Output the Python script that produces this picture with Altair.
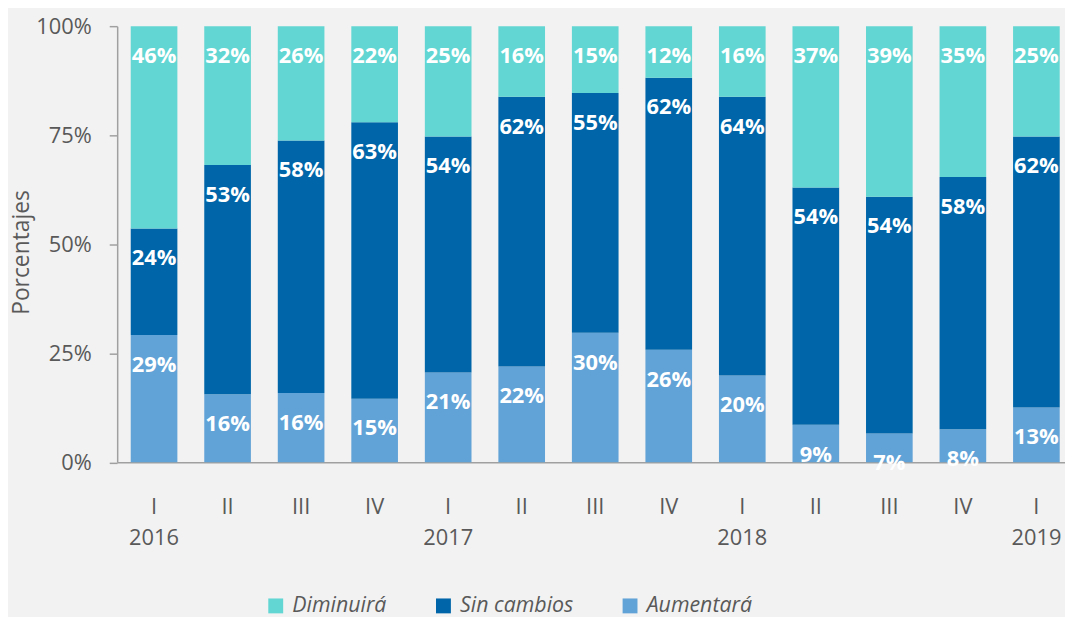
import altair as alt
import pandas as pd

periods = ["2016-I", "2016-II", "2016-III", "2016-IV",
           "2017-I", "2017-II", "2017-III", "2017-IV",
           "2018-I", "2018-II", "2018-III", "2018-IV",
           "2019-I"]
diminuira = [46.4, 31.8, 26.2, 22.0, 25.3, 16.2, 15.3, 11.8, 16.2, 37.0, 39.1, 34.6, 25.3]
sin_cambios = [24.4, 52.6, 57.9, 63.4, 54.1, 61.8, 55.0, 62.4, 63.9, 54.4, 54.3, 57.8, 62.1]
aumentara = [29.2, 15.6, 15.9, 14.6, 20.6, 22.0, 29.7, 25.8, 19.9, 8.6, 6.6, 7.6, 12.6]

series = ["Diminuirá", "Sin cambios", "Aumentará"]
colors = ["#62D6D2", "#0066A9", "#62A3D7"]
y_ticks = [0, 25, 50, 75, 100]

rows = []
for i, p in enumerate(periods):
    for order, (name, vals) in enumerate([("Aumentará", aumentara),
                                          ("Sin cambios", sin_cambios),
                                          ("Diminuirá", diminuira)]):
        rows.append({"period": p, "serie": name, "ord": order, "value": vals[i]})
df = pd.DataFrame(rows)

FONT = "Open Sans"
GRAY = "#595959"
AXIS = "#A0A0A0"

base = alt.Chart(df).transform_stack(
    stack="value", groupby=["period"],
    sort=[alt.SortField("ord", order="ascending")],
    as_=["v0", "v1"],
).transform_calculate(
    label="format(datum.value, '.0f') + '%'"
)

xenc = alt.X(
    "period:N", sort=periods,
    scale=alt.Scale(paddingInner=0.3655, paddingOuter=0.128, align=0.72),
    axis=alt.Axis(
        title=None, labelAngle=0, ticks=False, tickSize=0,
        labelPadding=35, labelLineHeight=31, labelBaseline="top",
        labelFontSize=22, labelFont=FONT, labelColor=GRAY,
        domainColor=AXIS, domainWidth=1.5,
        labelExpr="[split(datum.value,'-')[1], split(datum.value,'-')[1] == 'I' ? split(datum.value,'-')[0] : '']",
    ),
)

bars = base.mark_bar().encode(
    x=xenc,
    y=alt.Y(
        "v0:Q",
        scale=alt.Scale(domain=[0, 100], nice=False),
        axis=alt.Axis(
            values=y_ticks, labelExpr="datum.value + '%'", grid=False,
            domainColor=AXIS, domainWidth=1.5, tickColor=AXIS, tickWidth=1.5,
            tickSize=8, labelPadding=18, labelFontSize=22, labelFont=FONT,
            labelColor=GRAY, title="Porcentajes", titleFont=FONT,
            titleFontSize=23, titleFontWeight="normal", titleColor=GRAY,
            titleX=-96, titleY=227.5, titleAngle=270, titleAlign="center",
            titleBaseline="middle",
        ),
    ),
    y2="v1:Q",
    color=alt.Color(
        "serie:N",
        scale=alt.Scale(domain=series, range=colors),
        legend=alt.Legend(
            title=None, orient="none", legendX=149, legendY=573,
            direction="horizontal", symbolType="square", symbolSize=225,
            symbolStrokeWidth=0, labelFontSize=21.5, labelFontStyle="italic",
            labelFont=FONT, labelColor=GRAY, columnPadding=46, labelOffset=6,
        ),
    ),
)

texts = base.mark_text(
    dy=30, baseline="middle", align="center", fontSize=22,
    fontWeight="bold", font=FONT, color="white",
).encode(
    x=alt.X("period:N", sort=periods),
    y=alt.Y("v1:Q"),
    text="label:N",
)

chart = alt.layer(bars, texts).properties(
    width=955, height=439.5,
    padding={"left": 110, "top": 16, "right": 0, "bottom": 153.5},
    autosize=alt.AutoSizeParams(type="none"),
    background="#F2F2F2",
).configure_view(stroke=None)

chart.save("out.html", embed_options={"renderer": "svg", "actions": False})
